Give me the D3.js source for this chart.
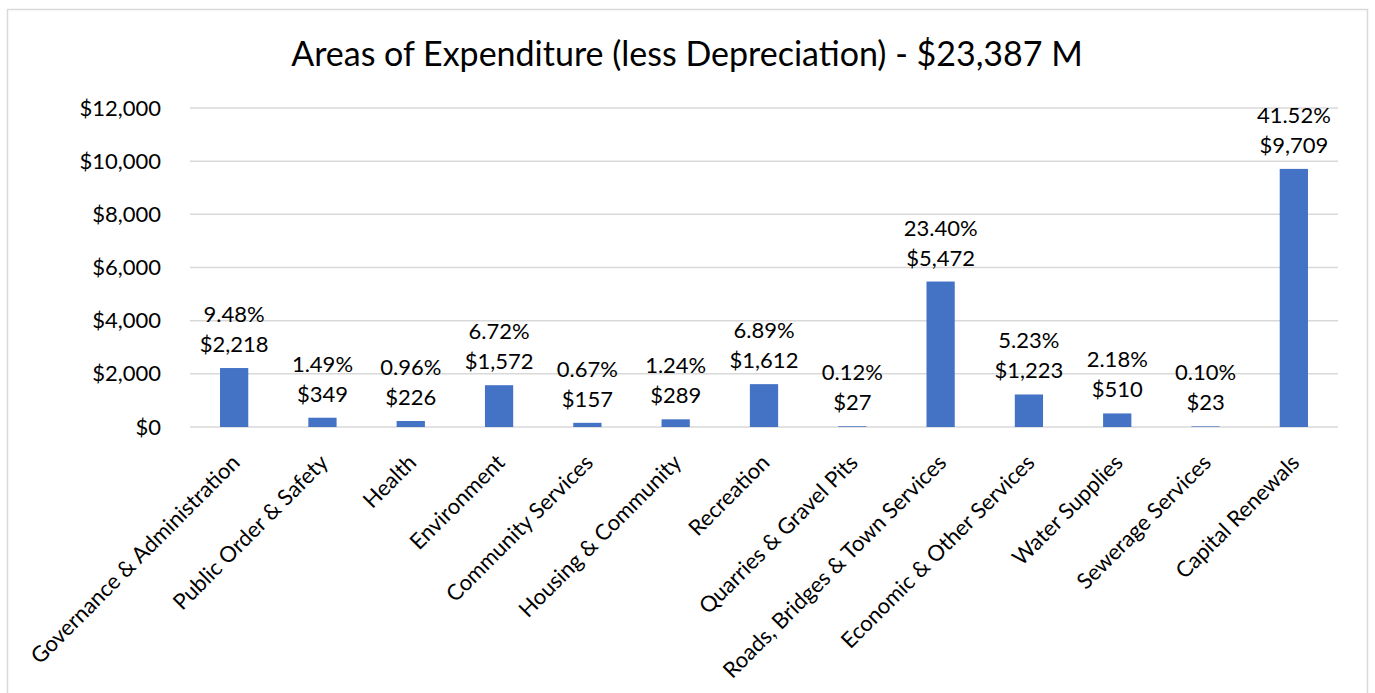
<!DOCTYPE html>
<html>
<head>
<meta charset="utf-8">
<script src="https://cdn.jsdelivr.net/npm/d3@7"></script>
<style>
  body { margin: 0; background: #fff; }
  text { font-family: Lato, "Open Sans", sans-serif; fill: #000; }
</style>
</head>
<body>
<svg id="chart" width="1375" height="693"></svg>
<script>
// chart data
var categories = ['Governance & Administration', 'Public Order & Safety', 'Health', 'Environment',
  'Community Services', 'Housing & Community', 'Recreation', 'Quarries & Gravel Pits',
  'Roads, Bridges & Town Services', 'Economic & Other Services', 'Water Supplies',
  'Sewerage Services', 'Capital Renewals'];
var amounts = [2218, 349, 226, 1572, 157, 289, 1612, 27, 5472, 1223, 510, 23, 9709];
var percents = ['9.48%', '1.49%', '0.96%', '6.72%', '0.67%', '1.24%', '6.89%', '0.12%',
  '23.40%', '5.23%', '2.18%', '0.10%', '41.52%'];
var yTicks = [0, 2000, 4000, 6000, 8000, 10000, 12000];
var chartTitle = 'Areas of Expenditure (less Depreciation) - $23,387 M';

var svg = d3.select('#chart');

// outer chart border
svg.append('rect')
  .attr('x', 7.5).attr('y', 9.5)
  .attr('width', 1360).attr('height', 700)
  .attr('fill', 'none').attr('stroke', '#d9d9d9').attr('stroke-width', 1.5);

var plotLeft = 190, plotRight = 1338, plotTop = 108, plotBottom = 427;

var x = d3.scaleBand().domain(categories).range([plotLeft, plotRight]).paddingInner(0.68).paddingOuter(0.34);
var y = d3.scaleLinear().domain([0, 12000]).range([plotBottom, plotTop]);

var dollar = d3.format(',');

// title
svg.append('text')
  .attr('x', 687).attr('y', 66)
  .attr('text-anchor', 'middle')
  .style('font-size', '34px')
  .text(chartTitle);

// gridlines
svg.append('g').selectAll('line').data(yTicks).enter().append('line')
  .attr('x1', plotLeft).attr('x2', plotRight)
  .attr('y1', function (d) { return y(d); }).attr('y2', function (d) { return y(d); })
  .attr('stroke', '#d9d9d9').attr('stroke-width', 1.5);

// y axis labels
var yAxis = d3.axisLeft(y).tickValues(yTicks).tickSize(0).tickPadding(29)
  .tickFormat(function (d) { return '$' + dollar(d); });
var gy = svg.append('g').attr('transform', 'translate(' + plotLeft + ',0)').call(yAxis);
gy.select('.domain').remove();
gy.selectAll('text').style('font-size', '22px').style('font-family', 'Lato, sans-serif').attr('fill', '#000');

// bars
svg.append('g').selectAll('rect').data(amounts).enter().append('rect')
  .attr('x', function (d, i) { return x(categories[i]); })
  .attr('y', function (d) { return y(d); })
  .attr('width', x.bandwidth())
  .attr('height', function (d) { return y(0) - y(d); })
  .attr('fill', '#4472c4');

// data labels (percent over amount)
var lbl = svg.append('g').selectAll('text').data(amounts).enter().append('text')
  .attr('text-anchor', 'middle')
  .style('font-size', '22px')
  .attr('x', function (d, i) { return x(categories[i]) + x.bandwidth() / 2; })
  .attr('y', function (d) { return y(d) - 16; });
lbl.append('tspan')
  .attr('x', function (d, i) { return x(categories[i]) + x.bandwidth() / 2; })
  .attr('dy', '-30')
  .text(function (d, i) { return percents[i]; });
lbl.append('tspan')
  .attr('x', function (d, i) { return x(categories[i]) + x.bandwidth() / 2; })
  .attr('dy', '30')
  .text(function (d) { return '$' + dollar(d); });

// rotated category labels
svg.append('g').selectAll('text').data(categories).enter().append('text')
  .attr('text-anchor', 'end')
  .style('font-size', '22px')
  .attr('transform', function (d) {
    var cx = x(d) + x.bandwidth() / 2 + 7;
    return 'translate(' + cx + ',' + (plotBottom + 37) + ') rotate(-45)';
  })
  .text(function (d) { return d; });
</script>
</body>
</html>
